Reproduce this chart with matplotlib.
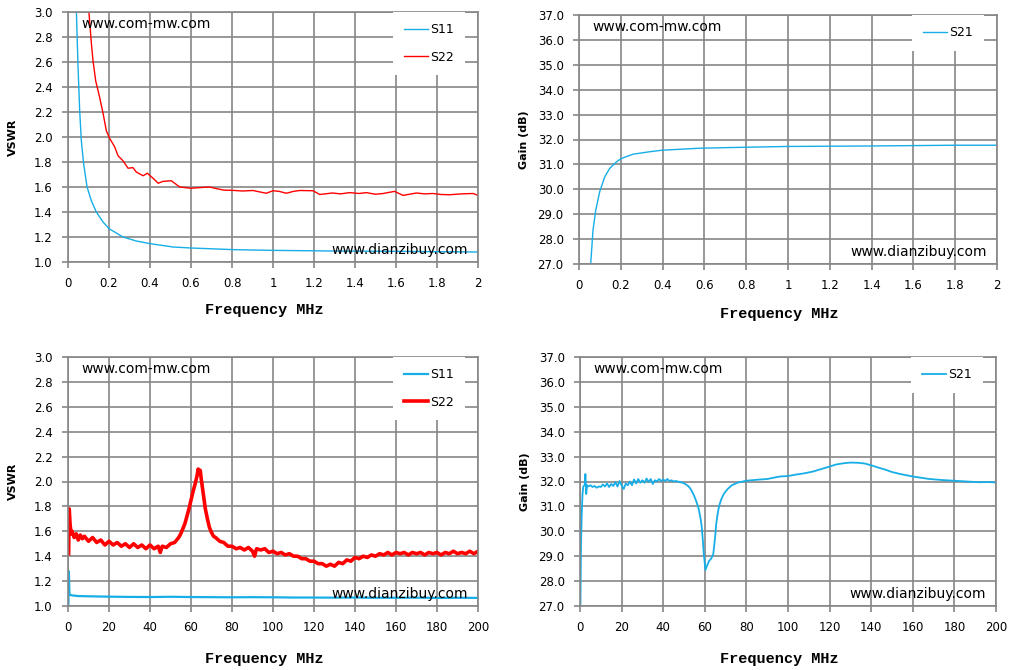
#!/usr/bin/env python
"""Amplifier S-parameter sweep: VSWR and gain, low band (0-2 MHz) and wide band (0-200 MHz)."""
from __future__ import annotations

import matplotlib

matplotlib.use("Agg")
import matplotlib.pyplot as plt
from matplotlib.ticker import FuncFormatter, MultipleLocator

# ---- 0-2 MHz sweep -------------------------------------------------------
LF_S11_FREQ = [0.041, 0.049, 0.057, 0.065, 0.076, 0.093, 0.114, 0.138, 0.171, 0.2,
               0.268, 0.333, 0.4, 0.512, 0.6, 0.805, 1.0, 1.29, 1.62, 2.0]
LF_S11_VSWR = [3.0, 2.56, 2.21, 1.97, 1.79, 1.60, 1.49, 1.40, 1.32, 1.267,
               1.20, 1.168, 1.147, 1.12, 1.112, 1.099, 1.093, 1.088, 1.085, 1.08]

LF_S22_FREQ = [0.102, 0.114, 0.122, 0.135, 0.154, 0.171, 0.187, 0.203, 0.228, 0.244,
               0.268, 0.293, 0.317, 0.333, 0.366, 0.387, 0.415, 0.44, 0.463, 0.504,
               0.545, 0.6, 0.642, 0.69, 0.724, 0.76, 0.805, 0.85, 0.902, 0.967,
               1.0, 1.03, 1.065, 1.1, 1.13, 1.195, 1.228, 1.29, 1.33, 1.374,
               1.42, 1.455, 1.5, 1.537, 1.593, 1.634, 1.7, 1.74, 1.78, 1.82,
               1.862, 1.92, 1.976, 2.0]
LF_S22_VSWR = [3.0, 2.75, 2.61, 2.45, 2.32, 2.19, 2.05, 1.99, 1.92, 1.85,
               1.81, 1.75, 1.755, 1.72, 1.69, 1.71, 1.67, 1.63, 1.645, 1.65,
               1.60, 1.59, 1.595, 1.60, 1.587, 1.575, 1.573, 1.568, 1.572, 1.55,
               1.57, 1.565, 1.55, 1.565, 1.572, 1.57, 1.54, 1.552, 1.545, 1.555,
               1.548, 1.555, 1.542, 1.548, 1.565, 1.533, 1.552, 1.545, 1.548, 1.54,
               1.538, 1.545, 1.548, 1.533]

LF_S21_FREQ = [0.056, 0.067, 0.08, 0.099, 0.123, 0.147, 0.179, 0.203, 0.259, 0.339,
               0.398, 0.578, 0.802, 0.997, 1.4, 1.8, 2.0]
LF_S21_GAIN = [27.0, 28.36, 29.16, 29.9, 30.5, 30.84, 31.1, 31.24, 31.41, 31.51,
               31.57, 31.65, 31.69, 31.72, 31.74, 31.77, 31.77]

# ---- 0-200 MHz sweep -----------------------------------------------------
HF_S22_FREQ = [0.3, 0.6, 1, 1.5, 2, 3, 4, 5, 6, 7, 8, 10, 12, 14, 16, 18, 20, 22, 24,
               26, 28, 30, 32, 34, 36, 38, 40, 42, 44, 45, 46, 48, 50, 52, 53, 54,
               55, 56, 57, 58, 59, 60, 61, 62, 63, 63.5, 64, 64.5, 65, 66, 67, 68,
               69, 70, 71, 72, 74, 76, 78, 80, 82, 84, 86, 88, 90, 91, 92, 94, 96,
               98, 100, 102, 104, 106, 108, 110, 112, 114, 116, 118, 120, 122, 124,
               126, 128, 130, 132, 134, 136, 138, 140, 142, 144, 146, 148, 150, 152,
               154, 156, 158, 160, 162, 164, 166, 168, 170, 172, 174, 176, 178, 180,
               182, 184, 186, 188, 190, 192, 194, 196, 198, 200]
HF_S22_VSWR = [1.42, 1.78, 1.66, 1.58, 1.60, 1.55, 1.58, 1.53, 1.57, 1.54, 1.56, 1.52,
               1.55, 1.51, 1.53, 1.49, 1.52, 1.49, 1.51, 1.48, 1.50, 1.47, 1.50, 1.47,
               1.49, 1.46, 1.49, 1.46, 1.48, 1.43, 1.48, 1.47, 1.50, 1.51, 1.53, 1.55,
               1.58, 1.62, 1.66, 1.72, 1.78, 1.85, 1.92, 1.98, 2.05, 2.10, 2.07, 2.09,
               2.02, 1.90, 1.78, 1.70, 1.63, 1.59, 1.56, 1.55, 1.52, 1.51, 1.48, 1.48,
               1.46, 1.47, 1.45, 1.47, 1.44, 1.40, 1.46, 1.45, 1.46, 1.43, 1.44, 1.42,
               1.43, 1.41, 1.42, 1.40, 1.40, 1.38, 1.38, 1.36, 1.36, 1.34, 1.34, 1.32,
               1.335, 1.32, 1.35, 1.34, 1.37, 1.36, 1.39, 1.38, 1.40, 1.39, 1.41, 1.40,
               1.42, 1.41, 1.43, 1.41, 1.43, 1.42, 1.43, 1.41, 1.43, 1.42, 1.43, 1.41,
               1.43, 1.42, 1.43, 1.41, 1.43, 1.42, 1.44, 1.42, 1.43, 1.42, 1.44, 1.42,
               1.44]

HF_S11_FREQ = [0.2, 0.4, 0.7, 1, 2, 5, 10, 20, 30, 40, 50, 60, 70, 80, 90, 100, 110,
               120, 130, 140, 150, 160, 170, 180, 190, 200]
HF_S11_VSWR = [1.0, 1.28, 1.10, 1.09, 1.085, 1.08, 1.078, 1.075, 1.073, 1.072, 1.074,
               1.072, 1.071, 1.07, 1.071, 1.07, 1.068, 1.068, 1.067, 1.068, 1.066,
               1.066, 1.067, 1.065, 1.066, 1.065]

HF_S21_FREQ = [0.2, 0.5, 0.8, 1.2, 1.6, 2.2, 2.6, 3.0, 3.4, 4, 5, 6, 7, 8, 9, 10, 11,
               12, 13, 14, 15, 16, 17, 18, 19, 20, 21, 22, 23, 24, 25, 26, 27, 28, 29,
               30, 31, 32, 33, 34, 35, 36, 37, 38, 39, 40, 41, 42, 43, 44, 45, 46, 48,
               50, 52, 53, 54, 55, 56, 57, 58, 58.5, 59, 59.5, 60, 60.3, 61, 62, 63,
               64, 64.5, 65, 65.5, 66, 66.5, 67, 68, 69, 70, 71, 73, 76, 80, 85, 90,
               96, 100, 104, 108, 112, 116, 120, 123, 126.5, 130, 134, 137, 140, 143,
               147, 150, 154, 160, 164, 168, 174, 180, 186, 192, 196, 200]
HF_S21_GAIN = [27.0, 29.5, 30.6, 31.5, 31.8, 31.85, 32.3, 31.5, 31.85, 31.8, 31.85,
               31.78, 31.82, 31.75, 31.8, 31.78, 31.88, 31.8, 31.92, 31.78, 31.9, 31.82,
               31.98, 31.8, 32.02, 31.85, 31.7, 31.92, 31.85, 32.0, 31.85, 32.08, 31.92,
               32.1, 31.95, 32.05, 31.95, 32.12, 31.98, 32.1, 31.9, 32.05, 32.0, 32.1,
               32.02, 32.08, 32.02, 32.1, 32.02, 32.05, 32.0, 32.02, 31.98, 31.93,
               31.82, 31.72, 31.58, 31.4, 31.18, 30.92, 30.5, 30.2, 29.7, 29.1, 28.7,
               28.45, 28.6, 28.8, 28.9, 29.05, 29.4, 29.8, 30.3, 30.6, 30.85, 31.05,
               31.3, 31.48, 31.6, 31.7, 31.85, 31.96, 32.03, 32.07, 32.1, 32.2, 32.22,
               32.28, 32.33, 32.4, 32.5, 32.6, 32.68, 32.73, 32.76, 32.75, 32.72,
               32.65, 32.57, 32.47, 32.38, 32.3, 32.2, 32.15, 32.1, 32.06, 32.03, 32.0,
               31.97, 31.98, 31.96]

BLUE = "#17AEE8"
RED = "#FF0000"
GRID = "#868686"

FIG_W, FIG_H = 1014, 670
# axes rectangles in pixels: left, top, right, bottom
PANELS = {
    "tl": (68, 12, 478, 262),
    "tr": (579, 15, 997, 264),
    "bl": (68, 357, 478, 606),
    "br": (580, 357, 996, 606),
}


def _add_axes(fig, box):
    left, top, right, bottom = box
    return fig.add_axes([left / FIG_W, 1 - bottom / FIG_H,
                         (right - left) / FIG_W, (bottom - top) / FIG_H])


def _style(ax, box, ylabel, xlim, xstep, ylim, ystep, xlabel_gap):
    left, top, right, bottom = box
    w, h = right - left, bottom - top
    ax.set_xlim(*xlim)
    ax.set_ylim(*ylim)
    ax.xaxis.set_major_locator(MultipleLocator(xstep))
    ax.yaxis.set_major_locator(MultipleLocator(ystep))
    ax.xaxis.set_major_formatter(FuncFormatter(lambda v, _: f"{v:g}"))
    ax.yaxis.set_major_formatter(FuncFormatter(lambda v, _: f"{v:.1f}"))
    ax.grid(True, color=GRID, linewidth=1.2)
    ax.set_axisbelow(True)
    for sp in ax.spines.values():
        sp.set_color(GRID)
        sp.set_linewidth(1.2)
    ax.tick_params(axis="both", colors=GRID, length=4, width=1.2, labelsize=8.5,
                   labelcolor="black")
    ax.tick_params(axis="x", pad=7)
    ax.tick_params(axis="y", pad=7)
    ax.set_xlabel("Frequency MHz", family="Liberation Mono", weight="bold", fontsize=11)
    ax.xaxis.set_label_coords(0.48, -xlabel_gap / h)
    ax.set_ylabel(ylabel, weight="bold", fontsize=8)
    ax.yaxis.set_label_coords(-50 / w, 0.5)

    ax.annotate("www.com-mw.com", xy=(0, 1), xycoords="axes fraction",
                xytext=(13, -12), textcoords="offset pixels", ha="left", va="center",
                fontsize=10, zorder=5)
    ax.annotate("www.dianzibuy.com", xy=(1, 0), xycoords="axes fraction",
                xytext=(-10, 12), textcoords="offset pixels", ha="right", va="center",
                fontsize=10, zorder=5)
    leg = ax.legend(loc="upper right", bbox_to_anchor=(1 - 13 / w, 1.0),
                    borderaxespad=0, frameon=True, fancybox=False, framealpha=1,
                    edgecolor="white", facecolor="white", fontsize=9,
                    handlelength=1.9, handletextpad=0.2, labelspacing=1.15,
                    borderpad=0.9)
    leg.get_frame().set_linewidth(0)


def main() -> None:
    fig = plt.figure(figsize=(FIG_W / 100, FIG_H / 100), dpi=100)

    ax = _add_axes(fig, PANELS["tl"])
    ax.plot(LF_S11_FREQ, LF_S11_VSWR, color=BLUE, linewidth=1.0, label="S11")
    ax.plot(LF_S22_FREQ, LF_S22_VSWR, color=RED, linewidth=1.0, label="S22")
    _style(ax, PANELS["tl"], "VSWR", (0, 2), 0.2, (1.0, 3.0), 0.2, 41)

    ax = _add_axes(fig, PANELS["tr"])
    ax.plot(LF_S21_FREQ, LF_S21_GAIN, color=BLUE, linewidth=1.0, label="S21")
    _style(ax, PANELS["tr"], "Gain (dB)", (0, 2), 0.2, (27.0, 37.0), 1.0, 43)

    ax = _add_axes(fig, PANELS["bl"])
    ax.plot(HF_S11_FREQ, HF_S11_VSWR, color=BLUE, linewidth=1.6, label="S11")
    ax.plot(HF_S22_FREQ, HF_S22_VSWR, color=RED, linewidth=2.6, label="S22")
    _style(ax, PANELS["bl"], "VSWR", (0, 200), 20, (1.0, 3.0), 0.2, 46)

    ax = _add_axes(fig, PANELS["br"])
    ax.plot(HF_S21_FREQ, HF_S21_GAIN, color=BLUE, linewidth=1.3, label="S21")
    _style(ax, PANELS["br"], "Gain (dB)", (0, 200), 20, (27.0, 37.0), 1.0, 46)

    fig.savefig("out.png", dpi=100)
    plt.close(fig)


if __name__ == "__main__":
    main()
